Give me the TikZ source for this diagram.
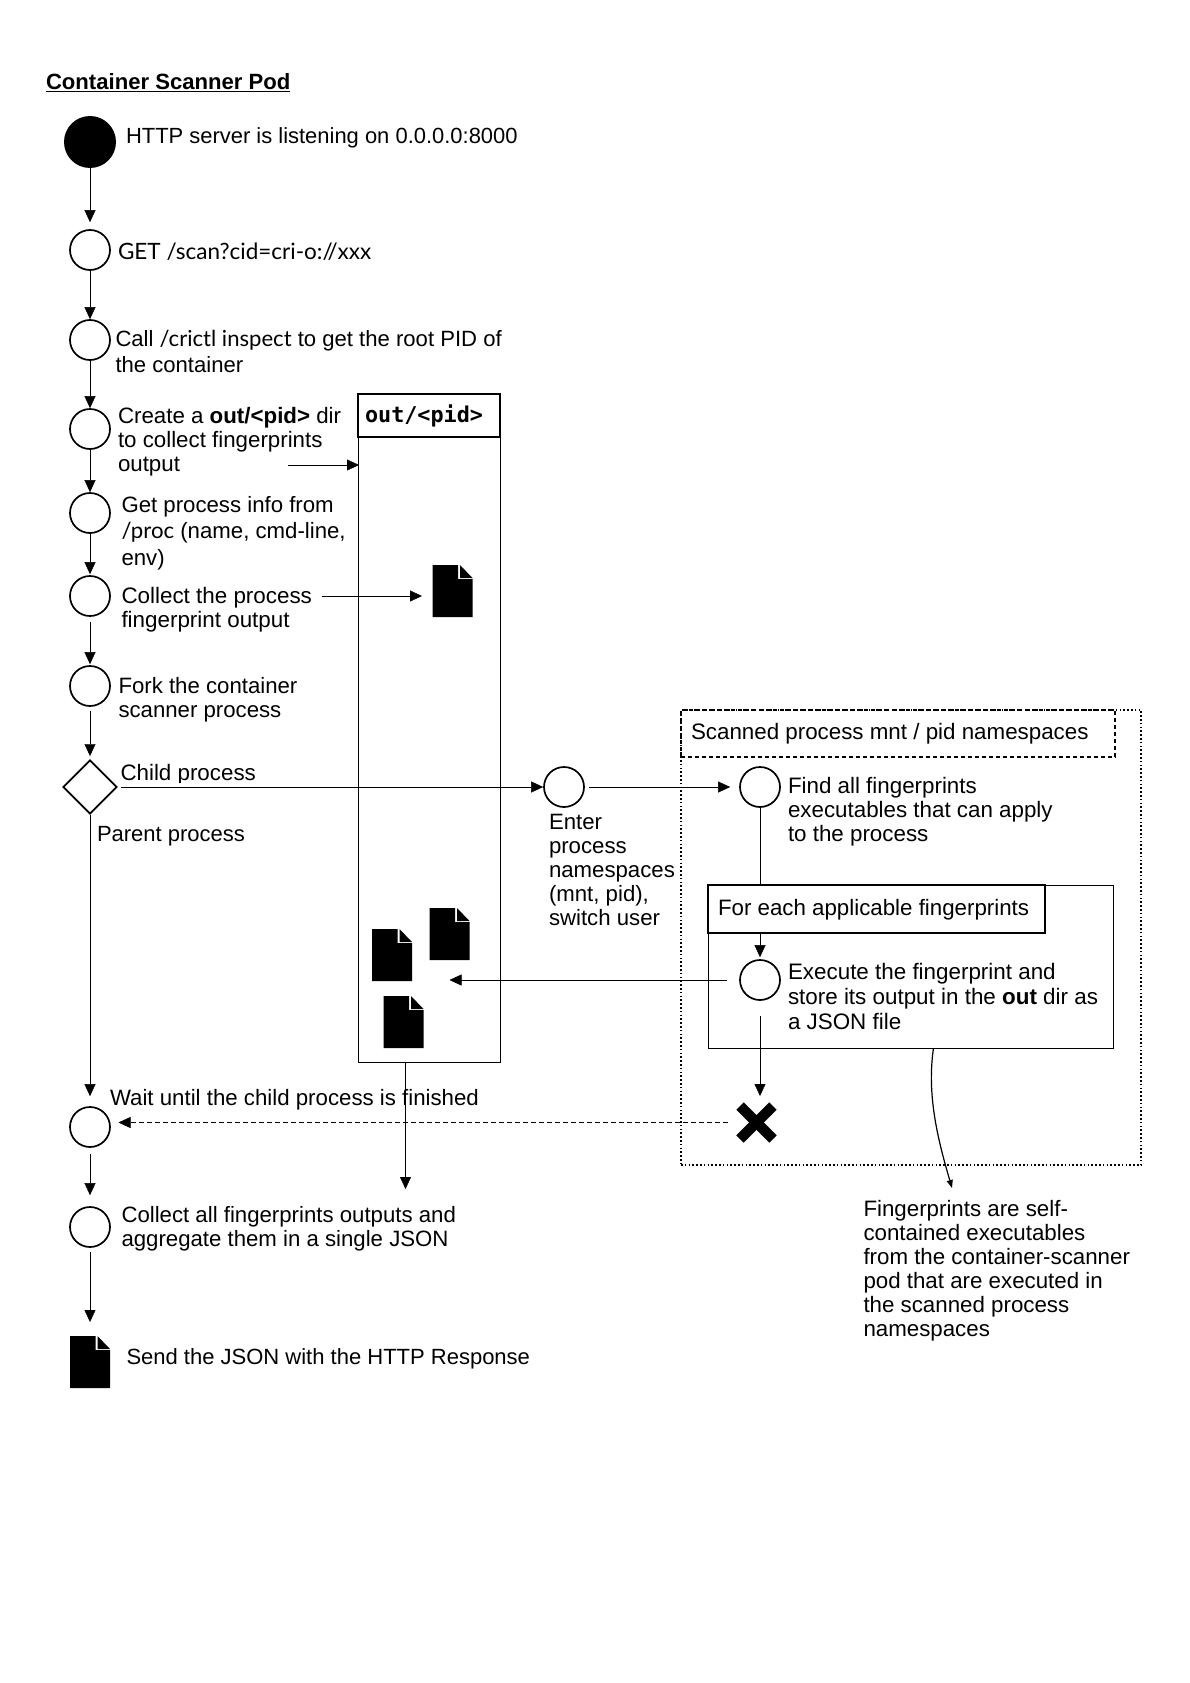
\documentclass[tikz,border=0pt]{standalone}
\usepackage{fontspec}
\setmainfont{Liberation Sans}
\newfontfamily\alt{Lato}
\newfontfamily\monob[BoldFont={DejaVu Sans Mono Bold}]{DejaVu Sans Mono}
\usetikzlibrary{arrows.meta,shapes.geometric,calc}
\tikzset{
  x=1pt,y=-1pt,
  line width=1.9pt,
  arr/.style={-{Triangle[length=12pt,width=11pt]}},
  dot/.style={circle,draw,line width=1.7pt,fill=white,minimum size=40pt,inner sep=0pt},
  txt/.style={inner sep=0pt,outer sep=0pt,anchor=base west},
  boxn/.style={draw,inner sep=0pt,outer sep=0pt,anchor=north west}
}
\newcommand\lbl[6]{\node[txt] (#1) at (#2,#3) {\fontsize{#4}{#5}\selectfont\begin{tabular}[t]{@{}l@{}}#6\end{tabular}};}
\newcommand\docicon[3]{%
  \coordinate (#1) at (#2,#3);
  \fill ($(#1)$) -- ++(25.5,0) -- ++(0,14) -- ++(14.5,0) -- ++(0,38) -- ++(-40,0) -- cycle;
  \fill ($(#1)+(27.5,0)$) -- ++(12.5,13) -- ++(-12.5,0) -- cycle;
}
\begin{document}
\begin{tikzpicture}
\useasboundingbox (0,0) rectangle (1190,1683);
% title
\node[txt] (title) at (46,90) {\fontsize{22.1}{24}\selectfont\bfseries\underline{Container Scanner Pod}};
% outer namespace box
\node[boxn,line width=1.5pt,dash pattern=on 1.6pt off 2.2pt,minimum width=460pt,minimum height=455pt] (ns) at (681,710) {};
\node[boxn,line width=1.8pt,dash pattern=on 4pt off 3pt,minimum width=434pt,minimum height=47pt] (nshead) at (681,710) {};
\lbl{nstext}{691}{739}{22.35}{24}{Scanned process mnt / pid namespaces}
% column
\node[boxn,minimum width=142pt,minimum height=668pt] (col) at (358,394) {};
\node[boxn,line width=2pt,minimum width=142pt,minimum height=43pt] (colhead) at (358,394) {};
\node[txt] (coltext) at (365,422) {\fontsize{21.8}{24}\selectfont\monob\bfseries out/<pid>};
% loop box
\node[boxn,minimum width=405pt,minimum height=163pt] (loop) at (708,885) {};
\node[boxn,line width=2pt,minimum width=336.5pt,minimum height=47.5pt] (loophead) at (708,885) {};
\lbl{looptext}{718}{915.5}{22.3}{24}{For each applicable fingerprints}
% dots
\node[circle,fill=black,minimum size=52pt,inner sep=0pt] (start) at (90,142) {};
\node[dot] (c2) at (90,250) {};
\node[dot] (c3) at (90,340) {};
\node[dot] (c4) at (90,429) {};
\node[dot] (c5) at (90,513) {};
\node[dot] (c6) at (90,596) {};
\node[dot] (c7) at (90,686) {};
\node[diamond,draw,line width=1.9pt,fill=white,aspect=1,minimum size=54pt,inner sep=0pt] (fork) at (90,787) {};
\node[dot] (c8) at (564,787) {};
\node[dot] (c11) at (760,787) {};
\node[dot] (c12) at (760,980) {};
\node[dot] (c9) at (90,1127) {};
\node[dot] (c10) at (90,1227) {};
% documents
\docicon{d1}{432.5}{565}
\docicon{d2}{372}{929}
\docicon{d3}{429.5}{908}
\docicon{d4}{383.5}{996}
\docicon{d5}{70}{1336}
% end cross
\coordinate (xc) at (756.5,1122.5);
\draw[line width=10.5pt] ($(xc)+(-16.5,-16.5)$) -- ($(xc)+(16.5,16.5)$);
\draw[line width=10.5pt] ($(xc)+(16.5,-16.5)$) -- ($(xc)+(-16.5,16.5)$);
% main flow
\draw[arr,shorten >=7pt] (start) -- (c2);
\draw[arr,shorten >=0pt] (c2) -- (c3);
\draw[arr,shorten >=0pt] (c3) -- (c4);
\draw[arr,shorten >=0pt] (c4) -- (c5);
\draw[arr,shorten >=1pt] (c5) -- (c6);
\draw[arr,shorten <=5pt,shorten >=1pt] (c6) -- (c7);
\draw[arr,shorten <=4pt,shorten >=3pt] (c7) -- (fork);
\draw[arr,shorten >=10pt] (fork) -- (c9);
\draw[arr,shorten <=6pt,shorten >=11pt] (c9) -- (c10);
\coordinate (dtop) at (90,1337);
\draw[arr,shorten <=4pt,shorten >=15pt] (c10) -- (dtop);
% child branch
\draw[arr,shorten <=3.5pt,shorten >=0pt] (fork) -- (c8);
\draw[arr,shorten <=4pt,shorten >=9pt] (c8) -- (c11);
\draw (c11) -- (c11 |- loop.north);
\draw[arr,shorten >=2pt] (c11 |- loophead.south) -- (c12);
\coordinate (xtop) at (760,1102);
\draw[arr,shorten <=15pt,shorten >=6pt] (c12) -- (xtop);
% column arrows
\coordinate (a1) at (288,465);
\draw[arr] (a1) -- ([xshift=1pt]a1 -| col.west);
\coordinate (a2) at (321.5,596);
\coordinate (a2e) at (422,596);
\draw[arr] (a2) -- (a2e);
\coordinate (a3) at (449.5,980);
\draw[arr,shorten <=12pt] (c12) -- (a3);
\coordinate (a4) at (405.5,1189);
\draw[arr] (a4 |- col.south) -- (a4);
% dashed return
\coordinate (xl) at (727.5,1122.5);
\coordinate (xr) at (118.5,1122.5);
\draw[-{Triangle[length=12pt,width=11pt]},dash pattern=on 5pt off 3pt] (xl) -- (xr);
% note curve
\coordinate (cs) at (933.5,1048);
\coordinate (ce) at (952,1188);
\draw[line width=1.2pt,-{Triangle[length=8pt,width=6pt]}] (cs) .. controls (926.5,1095) and (938,1140) .. (ce);
% labels
\lbl{t1}{126}{143}{21.95}{24}{HTTP server is listening on 0.0.0.0:8000}
\lbl{t2}{118}{259}{22.5}{24}{{\alt GET /scan?cid=cri-o://xxx}}
\lbl{t3}{115.5}{346.5}{22.1}{25.5}{Call {\alt /crictl inspect} to get the root PID of\\the container}
\lbl{t4}{118}{423}{22.3}{24}{Create a \textbf{out/<pid>} dir\\to collect fingerprints\\output}
\lbl{t5}{121.5}{512}{22.2}{26.5}{Get process info from\\{\alt /proc} (name, cmd-line,\\env)}
\lbl{t6}{121.5}{603}{22.4}{24}{Collect the process\\fingerprint output}
\lbl{t7}{118.5}{693}{22.2}{24}{Fork the container\\scanner process}
\begin{scope}
\clip (110,755) rectangle (300,782);
\lbl{t8}{120.5}{780.5}{22.35}{24}{Child process}
\end{scope}
\lbl{t9}{97}{841}{22}{24}{Parent process}
\lbl{t10}{549}{829.5}{22.2}{24}{Enter\\process\\namespaces\\(mnt, pid),\\switch user}
\lbl{t11}{788}{793}{22.35}{24.2}{Find all fingerprints\\executables that can apply\\to the process}
\lbl{t12}{788}{979.5}{22.4}{25}{Execute the fingerprint and\\store its output in the \textbf{out} dir as\\a JSON file}
\lbl{t13}{110}{1105.5}{22.25}{24}{Wait until the child process is finished}
\lbl{t14}{121.5}{1222.5}{22.2}{24}{Collect all fingerprints outputs and\\aggregate them in a single JSON}
\lbl{t15}{126.5}{1364}{22}{24}{Send the JSON with the HTTP Response}
\lbl{t16}{863.5}{1216.5}{22.3}{24}{Fingerprints are self-\\contained executables\\from the container-scanner\\pod that are executed in\\the scanned process\\namespaces}
\end{tikzpicture}
\end{document}
